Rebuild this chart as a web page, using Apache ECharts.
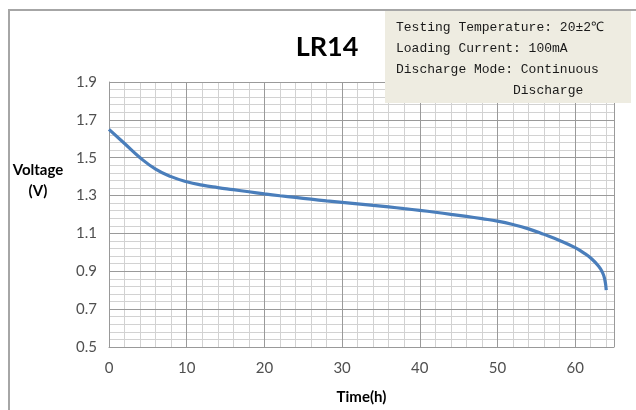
<!DOCTYPE html>
<html>
<head>
<meta charset="utf-8">
<script src="https://cdn.jsdelivr.net/npm/echarts@6/dist/echarts.min.js"></script>
<style>html,body{margin:0;padding:0;background:#fff}#c{width:636px;height:410px}</style>
</head>
<body>
<div id="c"></div>
<script>
const title = 'LR14';
const xName = 'Time(h)';
const yName = 'Voltage\n(V)';
const infoLines = ['Testing Temperature: 20±2℃', 'Loading Current: 100mA', 'Discharge Mode: Continuous', '               Discharge'];
const timeH = [0,2,4,6,8,10,12,14,16,18,20,22,24,26,28,30,32,34,36,38,40,42,44,46,48,50,52,54,56,58,60,61,62,63,63.5,63.8,64];
const voltage = [1.65,1.575,1.50,1.44,1.40,1.373,1.355,1.342,1.331,1.32,1.309,1.299,1.29,1.281,1.272,1.264,1.256,1.248,1.24,1.231,1.222,1.212,1.201,1.19,1.178,1.165,1.147,1.124,1.095,1.063,1.025,1.0,0.97,0.928,0.895,0.86,0.80];

const chart = echarts.init(document.getElementById('c'));
const lab = {fontFamily:'Lato', fontSize:15, color:'#505050'};
chart.setOption({
  animation:false,
  title:{text:title, left:322, top:29, textAlign:'center', textStyle:{fontFamily:'Lato', fontWeight:'bold', fontSize:27, color:'#000'}},
  grid:{left:109, right:22, top:82, bottom:62},
  xAxis:[
    {type:'value', min:0, max:65, interval:10, axisLine:{show:true,lineStyle:{color:'#999'}}, axisTick:{show:false},
     axisLabel:Object.assign({margin:14, showMaxLabel:false}, lab),
     splitLine:{show:true, lineStyle:{color:'#9a9a9a', width:1}},
     name:xName, nameLocation:'middle', nameGap:43, nameTextStyle:{fontFamily:'Lato', fontWeight:'bold', fontSize:15, color:'#000'}, z:3},
    {type:'value', min:0, max:65, interval:2, show:true, axisLine:{show:false}, axisTick:{show:false}, axisLabel:{show:false},
     splitLine:{show:true, lineStyle:{color:'#d2d2d2', width:1}}, z:1}
  ],
  yAxis:[
    {type:'value', min:0.5, max:1.9, interval:0.2, axisLine:{show:true,lineStyle:{color:'#999'}}, axisTick:{show:false},
     axisLabel:Object.assign({margin:12, formatter:v=>v.toFixed(1)}, lab),
     splitLine:{show:true, lineStyle:{color:'#9a9a9a', width:1}}, z:3},
    {type:'value', min:0.5, max:1.9, interval:0.04, position:'left', axisLine:{show:false}, axisTick:{show:false}, axisLabel:{show:false},
     splitLine:{show:true, lineStyle:{color:'#d2d2d2', width:1}}, z:1}
  ],
  series:[{type:'line', xAxisIndex:0, yAxisIndex:0, data:timeH.map((t,i)=>[t,voltage[i]]), smooth:0.5, showSymbol:false, symbol:'none',
    lineStyle:{color:'#4a7ebb', width:3.2}, z:5}],
  graphic:[
    {type:'polyline', shape:{points:[[9,420],[9,10],[640,10]]}, style:{stroke:'#a6a6a6', lineWidth:2, fill:null}, z:0},
    {type:'rect', shape:{x:385, y:11, width:246, height:92}, style:{fill:'#eeece1'}, z:10},
    {type:'text', x:396, y:17, style:{text:infoLines.join('\n'), fontFamily:'Liberation Mono', fontSize:13, lineHeight:21, fill:'#1a1a1a'}, z:11},
    {type:'text', x:38, y:181, style:{text:yName, fontFamily:'Lato', fontWeight:'bold', fontSize:15, lineHeight:21, fill:'#000', align:'center', verticalAlign:'middle'}, z:11}
  ]
});
</script>
</body>
</html>
